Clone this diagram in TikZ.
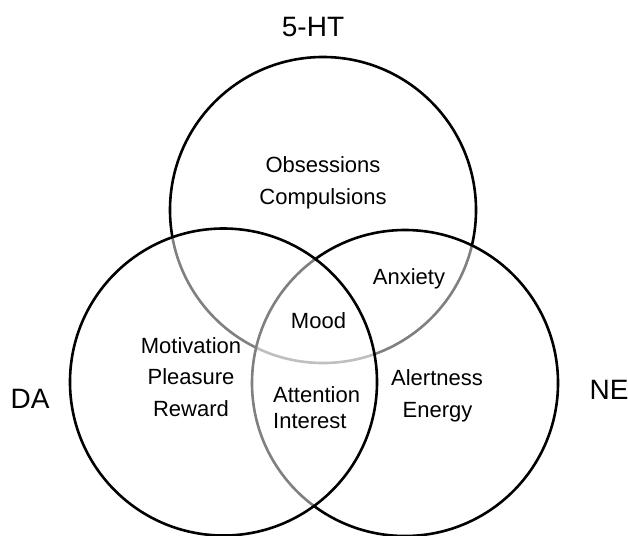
\documentclass[tikz,border=0pt]{standalone}
\usepackage{fontspec}
\setmainfont{Liberation Sans}
\begin{document}
\begin{tikzpicture}[x=1pt,y=-1pt,
  ring/.style={draw=black,line width=2.6pt},
  veil/.style={fill=white,fill opacity=0.5},
  lab/.style={anchor=base,inner sep=0pt,font=\fontsize{22}{26}\selectfont},
  big/.style={anchor=base,inner sep=0pt,font=\fontsize{28}{32}\selectfont}]
\useasboundingbox (0,0) rectangle (628,535);
% circles, layered: top, then right, then left
\draw[ring] (323,210) circle[radius=153];
\fill[veil] (405,383) circle[radius=153];
\draw[ring] (405,383) circle[radius=153];
\fill[veil] (223.5,382) circle[radius=153.5];
\draw[ring] (223.5,382) circle[radius=153.5];
% outer labels
\node[big] (ht) at (313,37) {5-HT};
\node[big] (da) at (30,408) {DA};
\node[big] (ne) at (609,399) {NE};
% inner labels
\node[lab] (obs) at (323,172) {Obsessions};
\node[lab] (com) at (323,204) {Compulsions};
\node[lab] (anx) at (409,284) {Anxiety};
\node[lab] (mood) at (318.5,328) {Mood};
\node[lab,anchor=base west] (att) at (273,402) {Attention};
\node[lab,anchor=base west] (int) at (273,428) {Interest};
\node[lab] (mot) at (191,353) {Motivation};
\node[lab] (ple) at (191,384) {Pleasure};
\node[lab] (rew) at (191,416) {Reward};
\node[lab] (ale) at (437,385) {Alertness};
\node[lab] (ene) at (437.5,417) {Energy};
\end{tikzpicture}
\end{document}
